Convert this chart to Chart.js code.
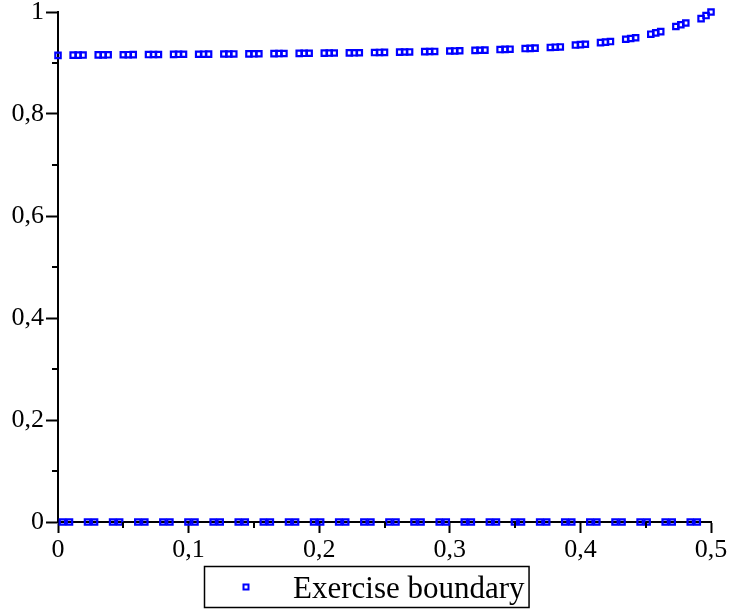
<!DOCTYPE html>
<html>
<head>
<meta charset="utf-8">
<script src="https://cdn.jsdelivr.net/npm/chart.js@4"></script>
<style>
  html, body { margin: 0; padding: 0; background: #ffffff; }
  #wrap { width: 731px; height: 609px; position: relative; }
</style>
</head>
<body>
<div id="wrap"><canvas id="c" width="731" height="609"></canvas></div>
<script>
// ---- data ----
const seriesLabel = 'Exercise boundary';

const upperX = [
  0,
  0.0116, 0.0154, 0.0192,
  0.0308, 0.0346, 0.0384,
  0.0500, 0.0538, 0.0576,
  0.0693, 0.0731, 0.0769,
  0.0885, 0.0923, 0.0961,
  0.1077, 0.1115, 0.1153,
  0.1270, 0.1308, 0.1346,
  0.1462, 0.1500, 0.1538,
  0.1654, 0.1692, 0.1730,
  0.1847, 0.1885, 0.1923,
  0.2039, 0.2077, 0.2115,
  0.2231, 0.2269, 0.2307,
  0.2424, 0.2462, 0.2500,
  0.2616, 0.2654, 0.2692,
  0.2808, 0.2846, 0.2884,
  0.3000, 0.3038, 0.3076,
  0.3193, 0.3231, 0.3269,
  0.3385, 0.3423, 0.3461,
  0.3577, 0.3615, 0.3653,
  0.3770, 0.3808, 0.3846,
  0.3962, 0.4000, 0.4038,
  0.4154, 0.4192, 0.4230,
  0.4347, 0.4385, 0.4423,
  0.4539, 0.4577, 0.4615,
  0.4731, 0.4769, 0.4807,
  0.4924, 0.4962, 0.5000
];
const upperY = [
  0.9150,
  0.9154, 0.9155, 0.9156,
  0.9159, 0.9160, 0.9161,
  0.9162, 0.9163, 0.9164,
  0.9165, 0.9166, 0.9167,
  0.9169, 0.9170, 0.9171,
  0.9172, 0.9173, 0.9174,
  0.9176, 0.9177, 0.9178,
  0.9179, 0.9180, 0.9181,
  0.9184, 0.9185, 0.9186,
  0.9189, 0.9190, 0.9191,
  0.9194, 0.9195, 0.9196,
  0.9199, 0.9200, 0.9201,
  0.9205, 0.9207, 0.9209,
  0.9213, 0.9215, 0.9217,
  0.9223, 0.9225, 0.9227,
  0.9235, 0.9237, 0.9240,
  0.9247, 0.9250, 0.9253,
  0.9263, 0.9267, 0.9271,
  0.9283, 0.9287, 0.9291,
  0.9305, 0.9310, 0.9315,
  0.9352, 0.9360, 0.9368,
  0.9400, 0.9410, 0.9420,
  0.9465, 0.9480, 0.9495,
  0.9565, 0.9590, 0.9615,
  0.9715, 0.9750, 0.9785,
  0.9870, 0.9930, 1.0000
];
const lowerX = [
  0.0034, 0.0088, 0.0226, 0.0280, 0.0418, 0.0472, 0.0611, 0.0665,
  0.0803, 0.0857, 0.0995, 0.1049, 0.1188, 0.1242, 0.1380, 0.1434,
  0.1572, 0.1626, 0.1765, 0.1819, 0.1957, 0.2011, 0.2149, 0.2203,
  0.2342, 0.2396, 0.2534, 0.2588, 0.2726, 0.2780, 0.2919, 0.2973,
  0.3111, 0.3165, 0.3303, 0.3357, 0.3495, 0.3549, 0.3688, 0.3742,
  0.3880, 0.3934, 0.4072, 0.4126, 0.4265, 0.4319, 0.4457, 0.4511,
  0.4649, 0.4703, 0.4841, 0.4895
];
const lowerY = lowerX.map(() => 0);

const xTickValues = [0, 0.1, 0.2, 0.3, 0.4, 0.5];
const yTickValues = [0, 0.2, 0.4, 0.6, 0.8, 1];
const xMinorTicks = [0.05, 0.15, 0.25, 0.35, 0.45];
const yMinorTicks = [0.1, 0.3, 0.5, 0.7, 0.9];

// ---- build ----
const points = [];
upperX.forEach((x, i) => points.push({ x: x, y: upperY[i] }));
lowerX.forEach((x, i) => points.push({ x: x, y: lowerY[i] }));

const fmt = v => String(Number(Number(v).toFixed(2))).replace('.', ',');
const SERIF = "'Liberation Serif', 'Times New Roman', serif";
const BLUE = '#0000ff';

const minorTicksPlugin = {
  id: 'minorTicks',
  afterDraw(chart) {
    const ctx = chart.ctx;
    const xs = chart.scales.x, ys = chart.scales.y;
    const area = chart.chartArea;
    ctx.save();
    ctx.strokeStyle = '#000';
    ctx.lineWidth = 2;
    xMinorTicks.forEach(v => {
      const px = Math.round(xs.getPixelForValue(v));
      ctx.beginPath();
      ctx.moveTo(px, area.bottom);
      ctx.lineTo(px, area.bottom + 6);
      ctx.stroke();
    });
    yMinorTicks.forEach(v => {
      const py = Math.round(ys.getPixelForValue(v));
      ctx.beginPath();
      ctx.moveTo(area.left, py);
      ctx.lineTo(area.left - 6, py);
      ctx.stroke();
    });
    ctx.restore();
  }
};

const boxedLegendPlugin = {
  id: 'boxedLegend',
  afterDraw(chart) {
    const ctx = chart.ctx;
    const ds = chart.data.datasets[0];
    ctx.save();
    ctx.font = '31px ' + SERIF;
    const tw = ctx.measureText(ds.label).width;
    const boxTop = 566, boxH = 41;
    const markerGap = 47, leftPad = 42, rightPad = 4;
    const boxW = leftPad + markerGap + tw + rightPad;
    const boxLeft = Math.round(chart.width / 2 - boxW / 2) + 1;
    ctx.strokeStyle = '#000';
    ctx.lineWidth = 1.5;
    ctx.strokeRect(boxLeft + 0.5, boxTop + 0.5, boxW, boxH);
    const mx = boxLeft + leftPad, my = boxTop + 21;
    ctx.strokeStyle = ds.borderColor;
    ctx.lineWidth = 2;
    ctx.strokeRect(mx - 2.5, my - 2.5, 5, 5);
    ctx.fillStyle = '#000';
    ctx.textBaseline = 'alphabetic';
    ctx.textAlign = 'left';
    ctx.fillText(ds.label, mx + markerGap, boxTop + 32);
    ctx.restore();
  }
};

new Chart(document.getElementById('c'), {
  type: 'scatter',
  data: {
    datasets: [{
      label: seriesLabel,
      data: points,
      pointStyle: 'rect',
      pointRadius: 3.8,
      pointHoverRadius: 3.8,
      borderColor: BLUE,
      backgroundColor: 'rgba(0,0,0,0)',
      borderWidth: 2.2,
      showLine: false,
      clip: false
    }]
  },
  options: {
    responsive: false,
    animation: false,
    events: [],
    layout: { padding: { left: 0, right: 20, top: 12, bottom: 47 } },
    plugins: {
      legend: { display: false },
      tooltip: { enabled: false }
    },
    scales: {
      x: {
        type: 'linear',
        min: 0, max: 0.5,
        afterBuildTicks(scale) { scale.ticks = xTickValues.map(v => ({ value: v })); },
        afterFit(scale) { scale.height = 40; scale.paddingLeft = 0; scale.paddingRight = 0; },
        ticks: {
          color: '#000',
          font: { family: SERIF, size: 26, lineHeight: 1 },
          padding: 4,
          maxRotation: 0,
          autoSkip: false,
          callback: v => fmt(v)
        },
        grid: {
          display: true, drawOnChartArea: false, drawTicks: true,
          tickLength: 11, tickColor: '#000', tickWidth: 2
        },
        border: { display: true, color: '#000', width: 2 }
      },
      y: {
        type: 'linear',
        min: 0, max: 1,
        afterBuildTicks(scale) { scale.ticks = yTickValues.map(v => ({ value: v })); },
        afterFit(scale) { scale.width = 58; scale.paddingTop = 0; scale.paddingBottom = 0; },
        ticks: {
          color: '#000',
          font: { family: SERIF, size: 26, lineHeight: 1 },
          padding: 2,
          autoSkip: false,
          callback: v => fmt(v)
        },
        grid: {
          display: true, drawOnChartArea: false, drawTicks: true,
          tickLength: 12, tickColor: '#000', tickWidth: 2
        },
        border: { display: true, color: '#000', width: 2 }
      }
    }
  },
  plugins: [minorTicksPlugin, boxedLegendPlugin]
});
</script>
</body>
</html>
